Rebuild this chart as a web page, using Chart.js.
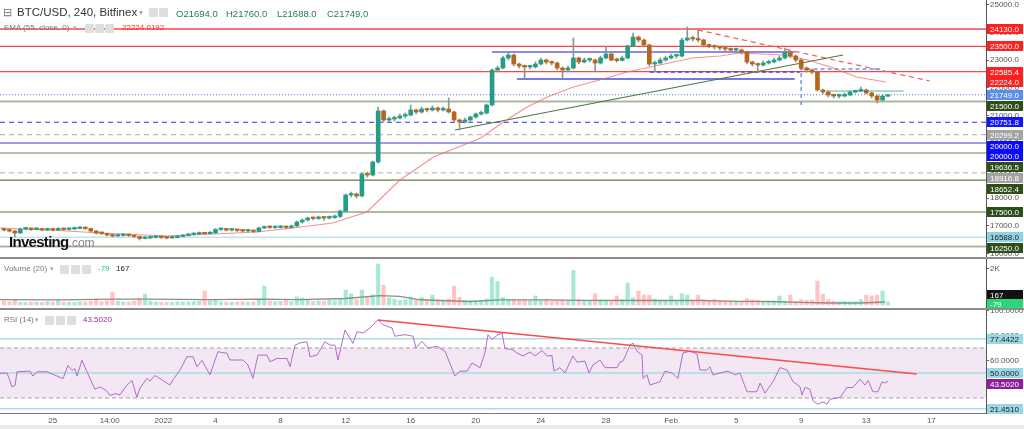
<!DOCTYPE html>
<html>
<head>
<meta charset="utf-8">
<script src="https://cdn.jsdelivr.net/npm/chart.js@4.4.1/dist/chart.umd.min.js"></script>
<style>
  body { margin: 0; width: 1024px; height: 429px; overflow: hidden; position: relative; background: #fff;
         font-family: "Liberation Sans", Arial, sans-serif; }
  canvas { position: absolute; left: 0; }
  .sep { position: absolute; left: 0; width: 1024px; height: 2px; background: #8c8c8c; }
  .t { position: absolute; white-space: nowrap; line-height: 1; }
  .ic { position: absolute; width: 9px; height: 9px; background: #dedede; border-radius: 1px; }
</style>
</head>
<body>
<canvas id="main" width="1024" height="257" style="top:0"></canvas>
<div class="sep" style="top:257px"></div>
<canvas id="vol" width="1024" height="49" style="top:259px"></canvas>
<div class="sep" style="top:308px"></div>
<canvas id="rsi" width="1024" height="115" style="top:310px"></canvas>
<div style="position:absolute;left:0;top:425px;width:1024px;height:4px;background:#ececec"></div>

<!-- legends -->
<div class="t" style="left:3px;top:7px;font-size:11px;color:#777">⊟</div>
<div class="t" style="left:17px;top:7px;font-size:11.5px;color:#333">BTC/USD, 240, Bitfinex</div>
<div class="t" style="left:139px;top:9px;font-size:8px;color:#aaa">▾</div>
<div class="ic" style="left:149px;top:8px"></div><div class="ic" style="left:159px;top:8px"></div>
<div class="t" style="left:176px;top:8.5px;font-size:9.5px;color:#2a7a4c">O21694.0</div>
<div class="t" style="left:226px;top:8.5px;font-size:9.5px;color:#2a7a4c">H21760.0</div>
<div class="t" style="left:277px;top:8.5px;font-size:9.5px;color:#2a7a4c">L21688.0</div>
<div class="t" style="left:327px;top:8.5px;font-size:9.5px;color:#2a7a4c">C21749.0</div>

<div class="t" style="left:4px;top:24px;font-size:8px;color:#777">EMA (55, close, 0)</div>
<div class="t" style="left:73px;top:24px;font-size:7px;color:#aaa">▾</div>
<div class="ic" style="left:85px;top:23.5px"></div><div class="ic" style="left:95px;top:23.5px"></div><div class="ic" style="left:105px;top:23.5px"></div>
<div class="t" style="left:122px;top:24px;font-size:8px;color:#ff2a2a">22224.0192</div>

<div class="t" style="left:9px;top:234px;font-size:15px;font-weight:bold;letter-spacing:-0.7px;color:#111">Investing<span style="font-size:12px;font-weight:normal;color:#888;letter-spacing:0">.com</span></div>

<div class="t" style="left:4px;top:265px;font-size:8px;color:#777">Volume (20)</div>
<div class="t" style="left:50px;top:265px;font-size:7px;color:#aaa">▾</div>
<div class="ic" style="left:60px;top:264.5px"></div><div class="ic" style="left:71px;top:264.5px"></div><div class="ic" style="left:82px;top:264.5px"></div>
<div class="t" style="left:98px;top:265px;font-size:8px;color:#26c281">-79</div>
<div class="t" style="left:116px;top:265px;font-size:8px;color:#222">167</div>

<div class="t" style="left:4px;top:316px;font-size:8px;color:#777">RSI (14)</div>
<div class="t" style="left:35px;top:316px;font-size:7px;color:#aaa">▾</div>
<div class="ic" style="left:45px;top:315.5px"></div><div class="ic" style="left:56px;top:315.5px"></div><div class="ic" style="left:67px;top:315.5px"></div>
<div class="t" style="left:83px;top:316px;font-size:8px;color:#9c27b0">43.5020</div>

<script>
// BTC/USD 240 — candles read off the picture and grouped into 8h bars
// time unit on x: days from Dec 25 00:00
const candleStartDay = -3;
const candleStepDay = 1 / 3;

const opens = [
  16866, 16848, 16812, 16740, 16884, 16884, 16866, 16884, 16848, 16866,
  16848, 16884, 16866, 16884, 16902, 16920, 16902, 16812, 16740, 16722,
  16667, 16630, 16649, 16667, 16649, 16612, 16540, 16558, 16576, 16594,
  16576, 16558, 16576, 16612, 16649, 16685, 16703, 16722, 16712, 16740,
  16866, 16866, 16848, 16848, 16830, 16812, 16830, 16794, 16920, 16957,
  16939, 16939, 16957, 16939, 16993, 17138, 17210, 17283, 17265, 17319,
  17283, 17301, 17337, 17536, 18116, 18152, 18080, 18877, 18841, 19310,
  21160, 20833, 20870, 20906, 20978, 21014, 21196, 21123, 21232, 21196,
  21268, 21196, 21232, 21123, 20833, 20761, 20833, 20942, 21051, 21087,
  21377, 22645, 22717, 23080, 23188, 22862, 22790, 22754, 22754, 22862,
  23007, 22935, 22898, 22717, 22645, 22717, 23080, 22935, 23007, 23007,
  22898, 23080, 23224, 23007, 22990, 23080, 23514, 23840, 23732, 23551,
  22862, 22898, 23007, 23080, 23152, 23152, 23732, 23804, 23768, 23732,
  23551, 23514, 23478, 23442, 23406, 23369, 23369, 23297, 22935, 22862,
  22826, 22898, 22935, 23007, 23080, 23297, 23152, 23007, 22717, 22645,
  22572, 21920, 21848, 21739, 21703, 21703, 21739, 21848, 21884, 21920,
  21812, 21703, 21558, 21694
];
const highs = [
  16920, 16884, 16848, 16920, 16938, 16920, 16938, 16902, 16920, 16902,
  16938, 16920, 16938, 16957, 16975, 16957, 16920, 16830, 16776, 16740,
  16685, 16703, 16722, 16703, 16667, 16630, 16612, 16630, 16649, 16630,
  16612, 16630, 16649, 16685, 16722, 16740, 16776, 16758, 16794, 16902,
  16920, 16902, 16884, 16884, 16866, 16866, 16848, 16957, 16993, 16993,
  16975, 17011, 16993, 17029, 17174, 17247, 17319, 17319, 17355, 17337,
  17355, 17391, 17572, 18152, 18225, 18188, 18913, 18949, 19348, 21300,
  21196, 20942, 20978, 21051, 21087, 21377, 21232, 21304, 21268, 21341,
  21304, 21304, 21630, 21159, 20870, 20906, 20978, 21087, 21159, 21413,
  22681, 22790, 23152, 23297, 23224, 22898, 22826, 22826, 22935, 23080,
  23044, 22971, 22935, 22754, 22790, 23804, 23116, 23080, 23080, 23044,
  23152, 23478, 23261, 23080, 23152, 23551, 23985, 23877, 23768, 23587,
  22971, 23080, 23152, 23224, 23224, 23804, 24203, 23877, 24094, 23768,
  23587, 23551, 23514, 23478, 23442, 23442, 23406, 23333, 22971, 22898,
  22971, 23007, 23080, 23152, 23442, 23333, 23188, 23044, 22754, 22681,
  22609, 21956, 21884, 21775, 21775, 21812, 21884, 21920, 22029, 21956,
  21848, 21739, 21739, 21760
];
const lows = [
  16812, 16776, 16594, 16722, 16848, 16830, 16848, 16812, 16830, 16812,
  16830, 16830, 16848, 16866, 16884, 16866, 16776, 16703, 16685, 16630,
  16594, 16612, 16630, 16612, 16576, 16486, 16522, 16540, 16558, 16540,
  16522, 16540, 16558, 16594, 16630, 16667, 16685, 16685, 16703, 16722,
  16830, 16812, 16812, 16794, 16776, 16776, 16758, 16776, 16902, 16902,
  16902, 16920, 16902, 16920, 16975, 17102, 17174, 17210, 17229, 17192,
  17247, 17265, 17301, 17500, 18044, 18008, 18044, 18768, 18804, 19275,
  20761, 20761, 20797, 20870, 20906, 20978, 21051, 21087, 21123, 21159,
  21123, 21159, 21087, 20761, 20471, 20725, 20797, 20906, 21014, 21051,
  21341, 22572, 22681, 23007, 22790, 22717, 22318, 22681, 22717, 22826,
  22862, 22826, 22645, 22355, 22572, 22681, 22862, 22898, 22935, 22572,
  22862, 23044, 22971, 22935, 22971, 23044, 23478, 23659, 23478, 22790,
  22572, 22862, 22971, 23044, 23080, 23116, 23695, 23695, 23659, 23478,
  23442, 23406, 23369, 23333, 23297, 23297, 23224, 22862, 22790, 22572,
  22790, 22862, 22898, 22971, 23044, 23080, 22935, 22645, 22572, 22500,
  21884, 21775, 21667, 21630, 21630, 21667, 21703, 21812, 21848, 21775,
  21630, 21450, 21522, 21688
];
const closes = [
  16848, 16812, 16740, 16884, 16884, 16866, 16884, 16848, 16866, 16848,
  16884, 16866, 16884, 16902, 16920, 16902, 16812, 16740, 16722, 16667,
  16630, 16649, 16667, 16649, 16612, 16540, 16558, 16576, 16594, 16576,
  16558, 16576, 16612, 16649, 16685, 16703, 16722, 16712, 16740, 16866,
  16866, 16848, 16848, 16830, 16812, 16830, 16794, 16920, 16957, 16939,
  16939, 16957, 16939, 16993, 17138, 17210, 17283, 17265, 17319, 17283,
  17301, 17337, 17536, 18116, 18152, 18080, 18877, 18841, 19310, 21160,
  20833, 20870, 20906, 20978, 21014, 21196, 21123, 21232, 21196, 21268,
  21196, 21232, 21123, 20833, 20761, 20833, 20942, 21051, 21087, 21377,
  22645, 22717, 23080, 23188, 22862, 22790, 22754, 22754, 22862, 23007,
  22935, 22898, 22717, 22645, 22717, 23080, 22935, 23007, 23007, 22898,
  23080, 23224, 23007, 22990, 23080, 23514, 23840, 23732, 23551, 22862,
  22898, 23007, 23080, 23152, 23152, 23732, 23804, 23768, 23732, 23551,
  23514, 23478, 23442, 23406, 23369, 23369, 23297, 22935, 22862, 22826,
  22898, 22935, 23007, 23080, 23297, 23152, 23007, 22717, 22645, 22572,
  21920, 21848, 21739, 21703, 21703, 21739, 21848, 21884, 21920, 21812,
  21703, 21558, 21703, 21749
];
const volumes = [
  220, 180, 260, 150, 140, 170, 160, 150, 190, 170,
  280, 160, 150, 140, 180, 170, 200, 330, 180, 230,
  720, 200, 170, 160, 210, 390, 610, 220, 170, 150,
  160, 140, 180, 170, 160, 190, 200, 780, 230, 280,
  180, 160, 150, 170, 180, 150, 170, 330, 1050, 220,
  180, 200, 280, 190, 450, 390, 250, 200, 230, 210,
  280, 240, 330, 830, 610, 300, 830, 420, 560, 2280,
  1100, 400, 330, 250, 300, 450, 280, 420, 260, 550,
  240, 200, 330, 1050, 420, 250, 220, 200, 240, 330,
  1550, 1300, 420, 300, 330, 250, 300, 220, 500, 230,
  300, 200, 240, 280, 220, 1920, 300, 220, 200, 630,
  280, 250, 260, 500, 300, 1220, 400, 780, 550, 550,
  330, 230, 210, 500, 240, 630, 550, 260, 550, 300,
  220, 300, 200, 180, 190, 170, 200, 350, 300, 260,
  200, 180, 170, 500, 220, 550, 200, 300, 250, 280,
  1330, 600, 300, 220, 180, 200, 170, 190, 300, 550,
  500, 550, 780, 167
];

// EMA(55)
const emaDays = [-3.25, -0.17, 2.9, 7.0, 9.85, 12.55, 14.76, 17.2, 19.3, 21.34, 23.4, 26.3, 27.7,
  29.15, 30.4, 32.0, 33.6, 35.3, 37.3, 39.3, 41.0, 42.2, 44.9, 46.4, 48.0, 49.4, 51.2];
const emaValues = [16920, 16848, 16740, 16630, 16703, 16775, 16920, 17102, 17500, 18659, 19493, 20181, 20761,
  21304, 21667, 22029, 22282, 22572, 22826, 23080, 23152, 23261, 23188, 23007, 22717, 22391, 22210];
const emaLast = 22224.0192;

// volume MA(20)
const volMaDays = [-3.25, 0.44, 3.82, 5.97, 9.66, 12.86, 15.19, 17.96, 20.11, 21.34, 22.57, 25.64,
  27.48, 30.25, 32.4, 36.09, 39.78, 42.24, 44.08, 45.93, 47.77, 49.61, 51.16];
const volMaValues = [300, 280, 330, 330, 300, 330, 300, 360, 520, 480, 290, 195,
  280, 280, 260, 250, 250, 200, 195, 150, 110, 110, 167];

// RSI(14)
const rsiDays = [
  -3.25, -2.81, -2.51, -2.32, -2.2, -1.4, -1.22, -0.97, -0.36, 0.63, 0.93, 1.18, 1.36, 1.49, 1.79, 2.1,
  2.59, 2.9, 3.33, 3.52, 3.82, 4.13, 4.56, 4.87, 5.17, 5.36, 5.79, 5.97, 6.28, 6.77, 7.2, 7.39,
  7.82, 8.25, 8.62, 8.86, 9.17, 9.66, 10.15, 10.71, 10.89, 11.69, 12.0, 12.3, 12.61, 13.16, 13.35, 13.78,
  14.4, 14.58, 14.89, 15.19, 15.62, 15.81, 16.24, 16.73, 17.04, 17.34, 17.53, 17.96, 18.45, 18.7, 19.07, 19.5,
  19.99, 20.3, 20.85, 21.03, 21.65, 22.14, 22.32, 22.69, 23.06, 23.61, 24.11, 24.72, 25.03, 25.46, 25.77, 26.26,
  26.56, 26.75, 26.99, 27.3, 27.61, 27.79, 28.22, 28.53, 28.9, 29.33, 29.64, 30.07, 30.38, 30.68, 30.81, 31.17,
  31.48, 31.97, 32.22, 32.71, 32.96, 33.2, 33.63, 33.94, 34.68, 34.86, 35.05, 35.48, 35.66, 35.91, 36.22, 36.28,
  36.52, 36.71, 37.32, 37.63, 38.06, 38.43, 38.73, 39.16, 39.59, 39.78, 40.21, 40.39, 40.58, 41.01, 41.5, 41.93,
  42.24, 42.67, 43.28, 43.47, 43.78, 44.27, 44.7, 45.13, 45.5, 45.93, 46.05, 46.24, 46.54, 46.73, 47.03, 47.34,
  47.59, 47.77, 48.39, 48.81, 49.18, 49.61, 49.92, 50.11, 50.41, 50.72, 50.97, 51.16, 51.35
];
const rsiValues = [
  49.8, 50, 39, 40, 51, 51.5, 47.5, 51, 51, 45.5, 56, 52, 53.5, 47.5, 60.2, 51,
  37, 39, 35.5, 32, 33.5, 32.5, 40.4, 44, 30.5, 38, 45.7, 43.5, 48, 44, 40.4, 44.6,
  52.4, 63, 63, 55, 60, 48.5, 67, 65.7, 60.4, 60.4, 56.4, 45.7, 64.3, 64.3, 59, 61.6,
  61.6, 55, 72.3, 74, 75, 63, 64.4, 75, 72.3, 72.3, 60.4, 84.4, 73.7, 83, 82, 86,
  92.6, 88.6, 86, 79.4, 80.7, 79.4, 70, 75.3, 70, 71.4, 67.4, 47.5, 51.5, 51.5, 58, 54.3,
  66, 80.7, 76.7, 80, 82, 69.4, 69, 66, 63.6, 66.8, 63.6, 68, 63.6, 64, 51.5, 54.3,
  50, 63.6, 58.7, 59.5, 50, 56.4, 60.4, 54.3, 54.3, 58.7, 59.5, 72.3, 74, 67.4, 64.4, 45.7,
  48.5, 40.4, 43, 51.5, 50, 45.7, 66, 67.4, 65.4, 52.4, 52.4, 55, 48.5, 50, 51.5, 48.5,
  50, 35, 35, 42, 34, 43, 54.3, 52.4, 43, 39, 32.5, 38.5, 37, 27.6, 25, 27,
  25, 29, 30.4, 38.4, 38.4, 45, 40.4, 44, 35, 35, 43, 42, 43.5
];

// axis ticks
const xTickDays = [0, 3.5, 6.8, 10, 14, 18, 22, 26, 30, 34, 38, 42, 46, 50, 54];
const xTickLabels = ['25', '14:00', '2022', '4', '8', '12', '16', '20', '24', '28', 'Feb', '5', '9', '13', '17'];
const priceTicks = [16000, 17000, 18000, 19000, 20000, 21000, 22000, 23000, 24000, 25000];
const volTicks = [2000];
const rsiTicks = [20, 40, 60, 80, 100];

// horizontal levels on the price pane
const levelValues = [24130, 23500, 22585.4, 21749, 21500, 20751.8, 20299.2, 20000, 19636.5, 18916.8, 18652.4, 17500, 16588, 16250];
const levelStyles = [
  { c: '#f44848', w: 1.3 }, { c: '#f44848', w: 1.3 }, { c: '#f44848', w: 1.3 },
  { c: '#4f7ad8', w: 1, d: [1, 2] },
  { c: '#a9b89e', w: 2 },
  { c: '#2f2ff0', w: 1, d: [5, 4] },
  { c: '#a8a8a8', w: 1, d: [5, 4] },
  { c: '#3b3bd0', w: 1.2 },
  { c: '#b3c0aa', w: 2 },
  { c: '#b0b0b0', w: 1, d: [5, 4] },
  { c: '#5f8040', w: 1.2 },
  { c: '#5f8040', w: 1.2 },
  { c: '#bde5ee', w: 1.5 },
  { c: '#aab8a0', w: 2 }
];
const mainLabelValues = [24130, 23500, 22585.4, emaLast, 21749, 21500, 20751.8, 20299.2, 20000, 20000, 19636.5, 18916.8, 18652.4, 17500, 16588, 16250];
const RED = ['#ff2020', '#fff'], DKG = ['#2e4f1c', '#fff'], GRY = ['#a3a3a3', '#fff'], BLU = ['#0a0aff', '#fff'];
const mainLabelColors = [RED, RED, RED, RED, ['#5b8ee6', '#fff'], DKG, ['#1414ff', '#fff'], GRY, BLU, BLU, DKG, GRY, DKG, DKG, ['#8fd3e2', '#222'], DKG];

// drawings on the price pane
const greenTrendDays = [24.72, 48.57], greenTrendPrices = [20471, 23188];
const boxTopDays = [27.0, 45.6], boxTopPrices = [23297, 23297];
const boxBottomDays = [28.53, 45.6], boxBottomPrices = [22318, 22318];
const measureDays1 = [36.7, 45.9], measurePrices1 = [22572, 22572];
const measureDays2 = [45.9, 50.85], measurePrices2 = [22681, 22681];
const dropMarkDays = [46.0, 46.0], dropMarkPrices = [22536, 21268];
const redDashDays = [39.66, 53.9], redDashPrices = [24094, 22246];
const rangeTopDays = [47.5, 52.3], rangeTopPrices = [21884, 21884];

// RSI pane
const rsiBand = [30, 70];
const rsiLevels = [77.4422, 50, 21.451];
const rsiTrendDays = [19.99, 53.1], rsiTrendValues = [92.4, 49.2];
const rsiLabelValues = [77.4422, 50, 43.502, 21.451];
const CYN = ['#9ad6e3', '#222'];
const rsiLabelColors = [CYN, CYN, ['#8e1e9e', '#fff'], CYN];

// volume pane
const volLabelValues = [167, -79];
const volLabelColors = [['#111', '#fff'], ['#2bd67b', '#fff']];

// ---------------------------------------------------------------------------
const FONT = '"Liberation Sans", Arial, sans-serif';
Chart.defaults.font.family = FONT;
const X_MIN = -3.245, X_MAX = 57.36;
const UP = '#239d86', DOWN = '#b5651d';

const candleDays = opens.map((_, i) => candleStartDay + i * candleStepDay);
const isUp = opens.map((o, i) => closes[i] >= o);

function hLine(value, st, order) {
  return {
    type: 'line', data: [{ x: X_MIN, y: value }, { x: X_MAX, y: value }],
    borderColor: st.c, borderWidth: st.w, borderDash: st.d || [], pointRadius: 0, order: order || 10
  };
}
function segLine(xs, ys, color, width, dash, order) {
  return {
    type: 'line', data: xs.map((x, i) => ({ x, y: ys[i] })),
    borderColor: color, borderWidth: width, borderDash: dash || [], pointRadius: 0, tension: 0, order: order || 3
  };
}

function rightAxis(min, max, ticks, fmt) {
  return {
    position: 'right', min, max, beginAtZero: false,
    afterBuildTicks: s => { s.ticks = ticks.map(v => ({ value: v })); },
    afterFit: s => { s.width = 38; s.paddingTop = 0; s.paddingBottom = 0; },
    ticks: { callback: fmt, color: '#555', font: { size: 8 }, padding: 1, autoSkip: false },
    grid: { drawOnChartArea: false, drawTicks: true, tickLength: 3, color: '#666' },
    border: { display: true, color: '#555' }
  };
}

// coloured value boxes on the price scale, pushed apart like TradingView does
function labelPlugin(values, colors, fmt, step) {
  return {
    id: 'axisLabels',
    afterDraw(chart) {
      const ys = chart.scales.y, ctx = chart.ctx;
      const items = values.map((v, i) => ({ v, bg: colors[i][0], fg: colors[i][1], py: ys.getPixelForValue(v) }))
        .sort((a, b) => a.py - b.py);
      for (let k = 1; k < items.length; k++) items[k].py = Math.max(items[k].py, items[k - 1].py + step);
      let cap = chart.height - step / 2;
      for (let k = items.length - 1; k >= 0; k--) { items[k].py = Math.min(items[k].py, cap); cap = items[k].py - step; }
      ctx.save();
      ctx.font = '8px ' + FONT;
      ctx.textBaseline = 'middle';
      ctx.textAlign = 'left';
      items.forEach(it => {
        ctx.fillStyle = it.bg;
        ctx.fillRect(ys.left + 1, Math.round(it.py - 5), 36, 10);
        ctx.fillStyle = it.fg;
        ctx.fillText(fmt(it.v), ys.left + 4, Math.round(it.py - 5) + 5.5);
      });
      ctx.restore();
    }
  };
}

const baseOptions = {
  responsive: false, animation: false, events: [],
  layout: { padding: 0 },
  plugins: { legend: { display: false }, tooltip: { enabled: false } }
};

// ---- price pane ----
new Chart(document.getElementById('main'), {
  type: 'bar',
  data: {
    datasets: [
      {
        type: 'bar', grouped: false, barThickness: 4, minBarLength: 1.5, order: 0,
        data: candleDays.map((d, i) => ({ x: d, y: [opens[i], closes[i]] })),
        backgroundColor: isUp.map(u => u ? UP : DOWN)
      },
      {
        type: 'bar', grouped: false, barThickness: 1, order: 1,
        data: candleDays.map((d, i) => ({ x: d, y: [lows[i], highs[i]] })),
        backgroundColor: '#8a968f'
      },
      segLine(emaDays, emaValues, 'rgba(240,110,110,0.75)', 1.2, [], 2),
      segLine(greenTrendDays, greenTrendPrices, '#4d7a3c', 1.2),
      segLine(boxTopDays, boxTopPrices, '#6464e6', 1.5),
      segLine(boxBottomDays, boxBottomPrices, '#4a4ae0', 1.3),
      segLine(measureDays1, measurePrices1, '#5a3fc8', 1.3, [4, 3]),
      segLine(measureDays2, measurePrices2, '#7f8cf0', 1.3, [4, 3]),
      segLine(dropMarkDays, dropMarkPrices, '#7f8cf0', 1.5, [4, 3]),
      segLine(redDashDays, redDashPrices, '#f05a5a', 1.2, [5, 4]),
      segLine(rangeTopDays, rangeTopPrices, '#8fd0b2', 1.3),
      ...levelValues.map((v, i) => hLine(v, levelStyles[i], 10))
    ]
  },
  options: {
    ...baseOptions,
    scales: {
      x: { type: 'linear', min: X_MIN, max: X_MAX, offset: false, display: false },
      y: rightAxis(15870, 25181, priceTicks, v => Number(v).toFixed(1))
    }
  },
  plugins: [labelPlugin(mainLabelValues, mainLabelColors, v => v.toFixed(1), 10.8)]
});

// ---- volume pane ----
new Chart(document.getElementById('vol'), {
  type: 'bar',
  data: {
    datasets: [
      segLine(volMaDays, volMaValues, '#8c8c8c', 1.3, [], 0),
      {
        type: 'bar', grouped: false, barThickness: 3.5, order: 1,
        data: candleDays.map((d, i) => ({ x: d, y: volumes[i] })),
        backgroundColor: isUp.map(u => u ? 'rgba(40,200,140,0.4)' : 'rgba(255,100,100,0.38)')
      }
    ]
  },
  options: {
    ...baseOptions,
    scales: {
      x: { type: 'linear', min: X_MIN, max: X_MAX, offset: false, display: false },
      y: rightAxis(-167, 2555, volTicks, () => '2K')
    }
  },
  plugins: [labelPlugin(volLabelValues, volLabelColors, v => String(v), 9)]
});

// ---- RSI pane ----
const bandPlugin = {
  id: 'rsiBand',
  beforeDatasetsDraw(chart) {
    const { ctx, chartArea } = chart, ys = chart.scales.y;
    const top = ys.getPixelForValue(rsiBand[1]), bot = ys.getPixelForValue(rsiBand[0]);
    ctx.save();
    ctx.fillStyle = 'rgba(150,60,160,0.12)';
    ctx.fillRect(chartArea.left, top, chartArea.right - chartArea.left, bot - top);
    ctx.restore();
  }
};

new Chart(document.getElementById('rsi'), {
  type: 'line',
  data: {
    datasets: [
      segLine(rsiDays, rsiValues, '#b36ac8', 1, [], 0),
      segLine(rsiTrendDays, rsiTrendValues, '#ff4a4a', 1.5, [], 1),
      ...rsiBand.map(v => hLine(v, { c: '#a59ca6', w: 1, d: [4, 3] }, 5)),
      ...rsiLevels.map(v => hLine(v, { c: '#a8dbe6', w: 1.5 }, 6))
    ]
  },
  options: {
    ...baseOptions,
    scales: {
      x: {
        type: 'linear', min: X_MIN, max: X_MAX, offset: false,
        afterBuildTicks: s => { s.ticks = xTickDays.map(v => ({ value: v })); },
        afterFit: s => { s.height = 12; s.paddingLeft = 0; s.paddingRight = 0; },
        ticks: { callback: (v, i) => xTickLabels[i], autoSkip: false, maxRotation: 0, color: '#555', font: { size: 8 }, padding: 3 },
        grid: { drawOnChartArea: false, drawTicks: false },
        border: { display: true, color: '#777' }
      },
      y: rightAxis(18, 100.4, rsiTicks, v => Number(v).toFixed(4))
    }
  },
  plugins: [bandPlugin, labelPlugin(rsiLabelValues, rsiLabelColors, v => v.toFixed(4), 10.8)]
});
</script>
</body>
</html>
